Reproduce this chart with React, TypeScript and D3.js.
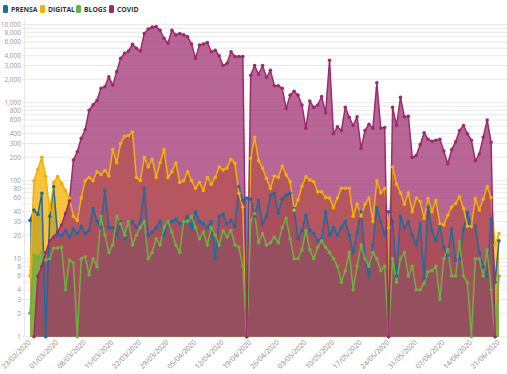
import React from 'react';
import * as d3 from 'd3';

const startDate = new Date(2020, 1, 23);
const dayCount = 120;

const prensa = [
  31, 42, 37, 69, 0, 35, 84, 20, 20, 23, 19, 24, 21, 26, 21, 23, 44, 30, 25, 75,
  25, 25, 20, 30, 18, 30, 30, 25, 30, 80, 20, 22, 25, 30, 20, 30, 30, 32, 28, 30,
  35, 25, 40, 30, 28, 25, 30, 10, 35, 37, 28, 31, 26, 84, 56, 60, 58, 35, 56, 28,
  35, 65, 69, 38, 58, 65, 69, 44, 18, 23, 36, 23, 21, 17, 18, 40, 20, 25, 20, 25,
  30, 20, 12, 22, 40, 10, 6, 15, 45, 30, 20, 40, 30, 6, 35, 25, 30, 20, 15, 28,
  5.6, 46, 23, 17, 27, 14, 11, 24, 9.6, 10, 24, 39, 26, 26, 12, 7.8, 5.9, 32, 5, 17,
];

const digital = [
  6, 100, 140, 200, 113, 42, 95, 113, 93, 75, 60, 35, 31, 60, 100, 110, 100, 130, 120, 135,
  115, 250, 170, 300, 370, 380, 420, 110, 100, 200, 150, 190, 110, 170, 250, 110, 130, 170, 95, 100,
  130, 100, 80, 95, 75, 110, 90, 110, 150, 137, 145, 188, 167, 69, 46, 0, 194, 360, 181, 145,
  107, 80, 115, 111, 154, 118, 97, 42, 57, 85, 112, 102, 97, 72, 72, 61, 60, 45, 60, 80,
  80, 80, 35, 50, 35, 50, 60, 30, 100, 70, 80, 25, 150, 90, 70, 50, 70, 40, 60, 54,
  33, 59, 40, 56, 28, 27, 36, 46, 51, 62, 44, 26, 26, 59, 42, 58, 84, 61, 15, 21,
];

const blogs = [
  2, 11, 10.6, 12, 9.6, 10, 13.6, 13.7, 14, 4, 9.6, 8.8, 1, 10, 10.6, 6.2, 10, 7.9, 35, 20,
  12, 15, 35, 28, 20, 30, 15, 20, 25, 30, 10, 12, 18, 15, 25, 30, 22, 15, 12, 30,
  30, 35, 25, 18, 22, 15, 25, 20, 15, 23, 19, 23, 15, 14, 8, 0, 31, 38, 16, 21,
  15, 16, 19, 16, 25, 33, 18, 10, 10, 13, 23, 13, 10, 14, 17, 14, 12, 10, 8, 5,
  7, 12, 4, 8, 15, 10, 8, 12, 10, 7, 8, 0, 10, 5, 10, 12, 6, 8, 4, 4,
  4.8, 6.8, 7, 8, 3, 10, 13, 6, 6, 16.5, 6, 4.9, 0, 10, 10, 6, 13, 4, 0, 6,
];

const covid = [
  null, 1, 6, 8, 12, 17, 19, 22, 27, 38, 55, 184, 235, 350, 450, 800, 940, 1070, 1530, 1600,
  2150, 1680, 2500, 3700, 4300, 4600, 5600, 5000, 4600, 7700, 8800, 9300, 9500, 8500, 6700, 5800, 8500, 7400, 7700, 7400,
  7000, 5650, 3700, 5500, 5650, 5900, 4500, 4700, 4000, 3000, 3200, 4500, 3900, 3900, 3900, 0, 2250, 3000, 2300, 3000,
  2100, 2600, 1650, 1650, 1530, 840, 1250, 1400, 1250, 935, 470, 1050, 870, 935, 1200, 740, 3500, 400, 490, 440,
  870, 650, 510, 660, 260, 440, 530, 470, 1800, 470, 480, 0, 870, 510, 1170, 660, 670, 200, 210, 290,
  410, 340, 320, 330, 340, 240, 165, 250, 315, 440, 510, 400, 330, 180, 220, 360, 600, 310, 0, null,
];

const seriesNames = ['PRENSA', 'DIGITAL', 'BLOGS', 'COVID'];
const seriesColors = ['#1f6a9e', '#f4b000', '#6fb042', '#9c2b6e'];
const seriesValues = [prensa, digital, blogs, covid];

const yTickValues = [1, 2, 3, 4, 6, 8, 10, 20, 30, 40, 60, 80, 100, 200, 300, 400, 600, 800, 1000, 2000, 3000, 4000, 6000, 8000, 10000];
const xTickEvery = 7;

const W = 507;
const H = 374;

export default function App() {
  const x = d3.scaleLinear().domain([0, dayCount - 1]).range([30, 499]);
  const y = d3.scaleLog().domain([1, 10000]).range([336.7, 24.7]);
  const yv = (v: number) => (v <= 1 ? y(1) : y(v));
  const base = y(1);

  const gridValues: number[] = [];
  for (let e = 0; e < 4; e++) for (let k = 1; k <= 9; k++) gridValues.push(k * Math.pow(10, e));
  gridValues.push(10000);

  const fmtDate = d3.timeFormat('%d/%m/%Y');
  const xTicks = d3.range(0, dayCount, xTickEvery);
  const fmtY = d3.format(',');

  const area = d3
    .area<number | null>()
    .defined((d) => d !== null)
    .x((_, i) => x(i))
    .y0(base)
    .y1((d) => yv(d as number));
  const line = d3
    .line<number | null>()
    .defined((d) => d !== null)
    .x((_, i) => x(i))
    .y((d) => yv(d as number));

  const legendX = [3, 40, 76, 109];

  return (
    <svg
      width={W}
      height={H}
      style={{ position: 'absolute', left: 0, top: 0, background: '#fff' }}
      fontFamily="'Open Sans', sans-serif"
    >
      {gridValues.map((v) => (
        <line key={'g' + v} x1={22} x2={W} y1={y(v)} y2={y(v)} stroke="#e8e8e8" strokeWidth={1} />
      ))}
      <line x1={24.5} x2={24.5} y1={20} y2={base} stroke="#e8e8e8" />
      {yTickValues.map((v) => (
        <text key={'yt' + v} x={21} y={y(v) + 2.3} textAnchor="end" fontSize={6.5} fill="#999">
          {fmtY(v)}
        </text>
      ))}
      {seriesValues.map((vals, si) => (
        <path key={'a' + si} d={area(vals) || ''} fill={seriesColors[si]} fillOpacity={si === 3 ? 0.72 : 0.75} />
      ))}
      {seriesValues.map((vals, si) => (
        <path key={'l' + si} d={line(vals) || ''} fill="none" stroke={seriesColors[si]} strokeWidth={1.5} strokeLinejoin="round" />
      ))}
      {seriesValues.map((vals, si) => (
        <g key={'m' + si} fill={seriesColors[si]}>
          {vals.map((v, i) => (v === null ? null : <circle key={i} cx={x(i)} cy={yv(v)} r={1.8} />))}
        </g>
      ))}
      {xTicks.map((i) => {
        const d = d3.timeDay.offset(startDate, i);
        const tx = x(i) + 1;
        const ty = 343;
        return (
          <text key={'xt' + i} x={tx} y={ty} textAnchor="end" fontSize={7} fill="#888" transform={`rotate(-45 ${tx} ${ty})`}>
            {fmtDate(d)}
          </text>
        );
      })}
      {seriesNames.map((n, si) => (
        <g key={'lg' + si}>
          <rect x={legendX[si]} y={5} width={5} height={8} rx={1.5} fill={seriesColors[si]} />
          <text x={legendX[si] + 8} y={11.8} fontSize={6.8} fontWeight="bold" fill="#333">
            {n}
          </text>
        </g>
      ))}
    </svg>
  );
}
